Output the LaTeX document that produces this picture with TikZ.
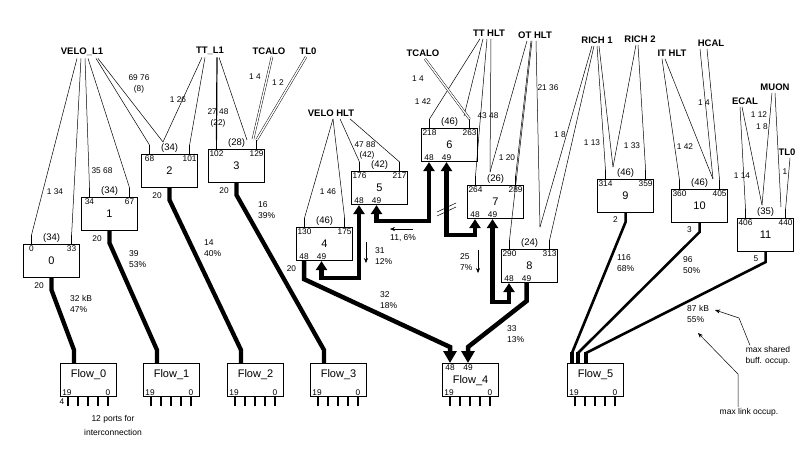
\documentclass[tikz,border=0pt]{standalone}
\usepackage{fontspec}
\setmainfont{Liberation Sans}
\usetikzlibrary{calc,positioning,arrows.meta}
\tikzset{
 sw box/.style={draw,line width=1.1pt,minimum width=56pt,minimum height=33pt,
                inner sep=0pt,font=\fontsize{11}{11}\selectfont},
 flow box/.style={draw,line width=1.1pt,minimum width=56pt,minimum height=33pt,
                  inner sep=0pt},
 flow title/.style={font=\fontsize{11}{11}\selectfont,inner sep=0pt},
 port label/.style={font=\fontsize{8.3}{8.3}\selectfont,inner sep=1.2pt},
 cnt label/.style={font=\fontsize{9.5}{9.5}\selectfont,inner sep=0.5pt},
 src label/.style={font=\fontsize{9.5}{9.5}\selectfont\bfseries,inner sep=1pt,
                   outer sep=1.5pt},
 link label/.style={font=\fontsize{8.3}{10.5}\selectfont,inner sep=0pt,align=center},
 note/.style={font=\fontsize{8.5}{11}\selectfont,inner sep=0pt,align=left},
 in line/.style={line width=0.5pt},
 in double/.style={double,double distance=1.4pt,line width=0.45pt},
 port tick/.style={line width=1.5pt},
 flow/.style={line width=4.3pt},
 flow arrow/.style={line width=4.5pt,-{Triangle[width=13pt,length=12pt]}},
 ring flow/.style={line width=4.5pt,
   arrows={Triangle[width=11pt,length=9pt]-Triangle[width=11pt,length=9pt]}},
 mux/.style={line width=2.6pt},
 pointer/.style={line width=0.5pt,-{Stealth[length=5pt,width=4pt]}}
}
\begin{document}
\begin{tikzpicture}[x=1pt,y=-1pt]
 \useasboundingbox (0,0) rectangle (807,448);
 % switch boxes
 \foreach \n/\x/\y/\lo/\hi/\nb in {0/23/244/0/33/34,1/81/197/34/67/34,
   2/141/154/68/101/34,3/208/149/102/129/28,4/296/227/130/175/46,
   5/351/171/176/217/42,6/421/128/218/263/46,7/467/185/264/289/26,
   8/501/249/290/313/24,9/597/179/314/359/46,10/671/189/360/405/46,
   11/737/218/406/440/35}{
  \node[sw box,anchor=north west] (b\n) at (\x,\y) {\n};
  \coordinate (b\n-l) at ($(b\n.north west)+(8.5,-9)$);
  \coordinate (b\n-r) at ($(b\n.north east)+(-8.5,-9)$);
  \draw[port tick] (b\n-l) -- ++(0,9);
  \draw[port tick] (b\n-r) -- ++(0,9);
  \node[port label,anchor=north] (pa\n) at ($(b\n-l)+(0,9)$) {\lo};
  \node[port label,anchor=north] (pb\n) at ($(b\n-r)+(0,9)$) {\hi};
  \node[cnt label,above=1pt of b\n] (c\n) {(\nb)};
 }
 \foreach \n in {4,...,8}{
  \coordinate (b\n-48) at ($(b\n.south west)+(8,0)$);
  \coordinate (b\n-49) at ($(b\n.south west)+(25.5,0)$);
  \node[port label,anchor=south] (pc\n) at (b\n-48) {48};
  \node[port label,anchor=south] (pd\n) at (b\n-49) {49};
 }
 % output flows
 \foreach \n/\x in {0/60,1/143,2/227,3/310,4/442,5/567}{
  \node[flow box,anchor=north west] (f\n) at (\x,363) {};
  \node[port label,anchor=south] (fl\n) at ($(f\n.south west)+(7,0)$) {19};
  \node[port label,anchor=south] (fr\n) at ($(f\n.south west)+(48,0)$) {0};
  \foreach \k in {8,18,28,38,48}
   \draw[port tick] ($(f\n.south west)+(\k,0)$) -- ++(0,9);
 }
 \foreach \n in {0,1,2,3,5}
  \node[flow title] (ft\n) at ($(f\n.center)+(0,-5)$) {Flow\_\n};
 \node[flow title] (ft4) at ($(f4.center)+(0,0.5)$) {Flow\_4};
 \node[port label,inner sep=0pt] (fx0) at (62,402) {4};
 \node[font=\fontsize{8.5}{14}\selectfont,align=center,inner sep=0pt] (ports)
   at (113,425) {12 ports for\\interconnection};

 \foreach \n in {0,...,3}{
  \coordinate (f\n-in) at ($(f\n.north west)+(14,0)$);
  \draw[flow] (b\n.south) -- ++(0,12) -- ($(f\n-in)+(0,-13)$) -- (f\n-in);
  \node[port label,anchor=north east] (o\n) at ($(b\n.south)+(-6.5,3)$) {20};
 }
 \coordinate (f4-48) at ($(f4.north west)+(8,0)$);
 \coordinate (f4-49) at ($(f4.north west)+(26,0)$);
 \node[port label,anchor=north] (fa4) at (f4-48) {48};
 \node[port label,anchor=north] (fb4) at (f4-49) {49};
 \draw[flow arrow] (b4-48) -- ++(0,18) -- ($(f4-48)+(0,-16)$) -- (f4-48);
 \draw[flow arrow] (b8-49) -- ++(0,18) -- ($(f4-49)+(0,-16)$) -- (f4-49);
 \node[port label,anchor=north east] (o4) at ($(b4-48)+(-6.5,3)$) {20};

 % chained switches
 \draw[ring flow] (b4-49) -- ++(0,17) -| (b5-48);
 \draw[ring flow] (b5-49) -- ++(0,16) -| (b6-48);
 \draw[ring flow] (b6-49) -- ++(0,73) -| (b7-48);
 \draw[ring flow] (b7-49) -- ++(0,83) -| (b8-48);
 \draw[in line] (437,216) -- (456,207);
 \draw[in line] (437,212) -- (456,203);

 % merged into Flow_5
 \coordinate (f5-a) at ($(f5.north west)+(5,0)$);
 \coordinate (f5-b) at ($(f5.north west)+(11,0)$);
 \coordinate (f5-c) at ($(f5.north west)+(19,0)$);
 \draw[mux] (b9.south) -- ++(0,9) -- ($(f5-a)+(0,-10)$);
 \draw[mux] (b10.south) -- ++(0,9) -- ($(f5-b)+(0,-10)$);
 \draw[mux] (b11.south) -- ++(0,10) -- ($(f5-c)+(0,-10)$);
 \foreach \p in {a,b,c} \draw[line width=3.4pt] ($(f5-\p)+(0,-11)$) -- (f5-\p);
 \node[port label,anchor=north east] (o9) at ($(b9.south)+(-6.5,2)$) {2};
 \node[port label,anchor=north east] (o10) at ($(b10.south)+(-6.5,2)$) {3};
 \node[port label,anchor=north east] (o11) at ($(b11.south)+(-6,2)$) {5};

 % sources
 \node[src label] (velol1) at (82,52) {VELO\_L1};
 \node[src label] (ttl1) at (210,51) {TT\_L1};
 \node[src label] (tcaloa) at (269,51) {TCALO};
 \node[src label] (tl0a) at (308,51) {TL0};
 \node[src label] (velohlt) at (331,113) {VELO HLT};
 \node[src label] (tcalob) at (423,53) {TCALO};
 \node[src label] (tthlt) at (489,33) {TT HLT};
 \node[src label] (othlt) at (535,35) {OT HLT};
 \node[src label] (richa) at (597,40) {RICH 1};
 \node[src label] (richb) at (640,39) {RICH 2};
 \node[src label] (ithlt) at (672,53) {IT HLT};
 \node[src label] (hcal) at (711,43) {HCAL};
 \node[src label] (ecal) at (745,101) {ECAL};
 \node[src label] (muon) at (775,87) {MUON};
 \node[src label] (tl0b) at (787,152) {TL0};

 \coordinate (a2) at (163,142);
 \coordinate (a3) at (247,140);
 \coordinate (a3t) at (253,139);
 \coordinate (a6) at (464,116);
 \coordinate (a7) at (490,172);
 \coordinate (a8) at (540,227);
 \coordinate (a9) at (613,167);
 \coordinate (a10) at (713,179);
 \coordinate (a11) at (762,205);
 \coordinate (a11m) at (781,207);

 \foreach \s/\d/\t in {velol1/-5/b0-l,velol1/-1/b0-r,velol1/3/b1-l,
   velol1/6/b1-r,velol1/14/b2-l,velol1/16/a2,ttl1/-8/a2,ttl1/-5/b2-r,
   ttl1/9/a3,velohlt/2/b4-l,velohlt/2/b4-r,velohlt/9/b5-l,velohlt/19/b5-r,
   tthlt/-9/b6-l,tthlt/-6/a6,tthlt/-2/b7-l,tthlt/2/a7,othlt/-8/a7,
   othlt/-4/b7-r,othlt/-3/b8-l,othlt/1/a8,richa/-5/a8,richa/-3/b8-r,
   richa/0/b9-l,richa/2/a9,richb/-4/a9,richb/-2/b9-r,ithlt/-10/b10-l,
   ithlt/-7/a10,hcal/-11/a10,hcal/-4/b10-r,ecal/-5/b11-l,ecal/-3/a11,
   muon/-3/a11,muon/0/a11m,tl0b/3/b11-r}
  \draw[in line] ([xshift=\d pt]\s.south) -- (\t);
 \draw[line width=1.2pt] ([xshift=7pt]ttl1.south) -- (b3-l);
 \draw[in double] ([xshift=3pt]tcaloa.south) -- (a3t);
 \draw[in double] ([xshift=-2pt]tl0a.south) -- (b3-r);
 \draw[in double] ([xshift=2pt]tcalob.south) -- (b6-r);

 % link ranges
 \foreach \x/\y/\t [count=\i] in {55/192/1 34,102/171/35 68,
   139/84/{69 76\\(8)},178/100/1 26,218/118/{27 48\\(22)},255/77/1 4,
   278/83/1 2,328/192/1 46,365/145/47 88,367/155/(42),418/79/1 4,
   423/102/1 42,488/116/43 48,507/158/1 20,548/88/21 36,560/135/1 8,
   592/143/1 13,632/146/1 33,685/147/1 42,704/103/1 4,742/176/1 14,
   759/115/1 12,762/127/1 8,785/172/1}
  \node[link label] (lk\i) at (\x,\y) {\t};

 % occupancies
 \foreach \x/\y/\t [count=\i] in {70/304/{32 kB\\47\%},129/259/{39\\53\%},
   204/248/{14\\40\%},258/210/{16\\39\%},380/300/{32\\18\%},
   375/256/{31\\12\%},390/238/{11, 6\%},460/262/{25\\7\%},
   507/334/{33\\13\%},617/263/{116\\68\%},683/265/{96\\50\%},
   687/314/{87 kB\\55\%}}
  \node[note,anchor=west] (occ\i) at (\x,\y) {\t};
 \draw[pointer] (413,229) -- (390,229);
 \draw[pointer] (366,242) -- (366,263);
 \draw[pointer] (478,250) -- (478,273);
 \node[note,align=center] (mx1) at (768,356) {max shared\\buff. occup.};
 \node[note] (mx2) at (749,412) {max link occup.};
 \draw[pointer] ([xshift=-18pt,yshift=1pt]mx1.north) -- (739,318) -- (715,310);
 \draw[pointer] ([xshift=-11pt,yshift=1pt]mx2.north) -- (738,374) -- (698,333);
\end{tikzpicture}
\end{document}
